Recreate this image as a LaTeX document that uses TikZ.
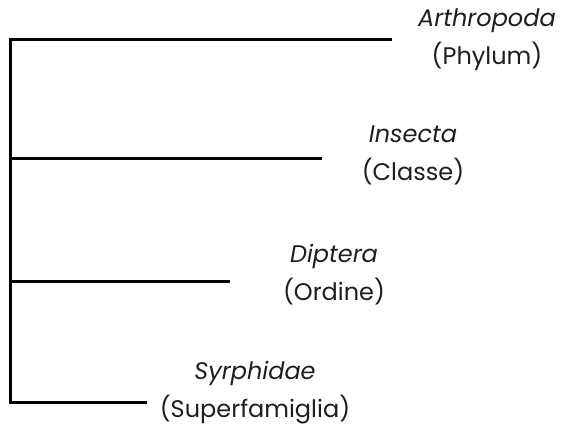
\documentclass[tikz,border=0pt]{standalone}
\usepackage{fontspec}
\setmainfont{Poppins}
\usetikzlibrary{positioning}
\definecolor{ink}{RGB}{30,30,30}
\tikzset{
  branch/.style={line width=1.5pt,line cap=rect},
  taxon/.style={align=center,text=ink,font=\fontsize{12}{19}\selectfont,inner sep=0pt},
}
\begin{document}
\begin{tikzpicture}[x=0.5pt,y=-0.5pt]
  \useasboundingbox (0,0) rectangle (567,426);
  % spine of the tree
  \coordinate (root) at (10,40);
  \coordinate (base) at (10,403);
  \draw[branch] (root) -- (base);
  % branches: y / end x / label centre / name / rank
  \foreach \i/\y/\e/\lx/\ly/\n/\r in {1/40/390/487/40/Arthropoda/Phylum,
      2/159/320/413/155/Insecta/Classe,
      3/282/228/334/275/Diptera/Ordine,
      4/403/145/255/393/Syrphidae/Superfamiglia}{
    \coordinate (s\i) at (10,\y);
    \coordinate (t\i) at (\e,\y);
    \draw[branch] (s\i) -- (t\i);
    \node[taxon] (l\i) at (\lx,\ly) {\textit{\n}\\(\r)};
  }
\end{tikzpicture}
\end{document}
